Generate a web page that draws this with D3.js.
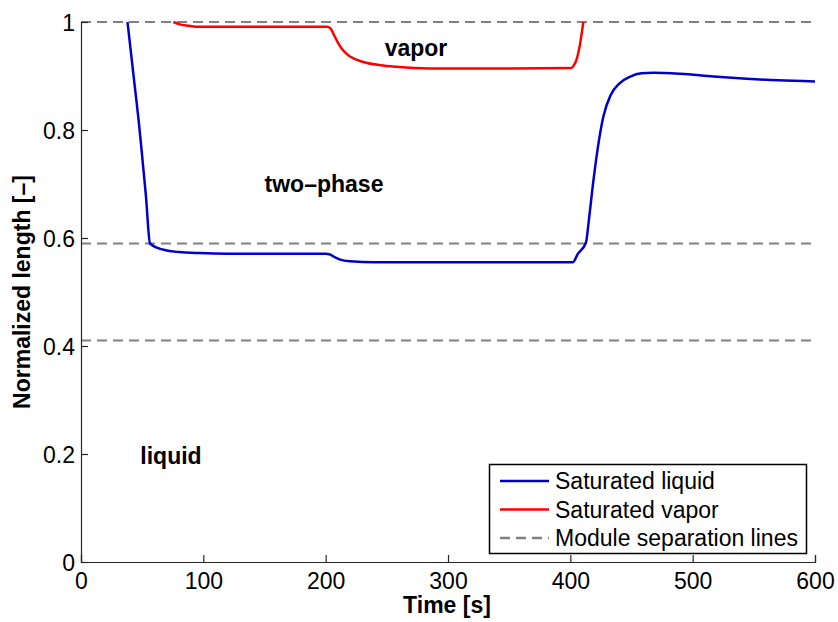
<!DOCTYPE html>
<html><head><meta charset="utf-8">
<script src="https://cdn.jsdelivr.net/npm/d3@7"></script>
<style>body{margin:0;background:#fff}svg{display:block;font-family:"Liberation Sans",Arial,sans-serif}</style>
</head><body>
<svg id="c" width="838" height="622"></svg>
<script>
const xTicks = [0,100,200,300,400,500,600];
const yTicks = [0,0.2,0.4,0.6,0.8,1];
const yTickLabels = ["0","0.2","0.4","0.6","0.8","1"];
const separationLines = [0.41,0.59,1.0];
const liquidT = [38,41,44,47,49.5,53,56.4,62,70,80,97,120,200,203,207,212,220,240,300,402,406,412.8,415,418,422,427,433,440,449,458,468,490,517,544,570,600];
const liquidV = [1.0,0.94,0.88,0.82,0.763,0.68,0.59,0.582,0.577,0.574,0.572,0.571,0.571,0.570,0.565,0.560,0.557,0.555,0.555,0.555,0.570,0.592,0.63,0.69,0.76,0.825,0.865,0.886,0.899,0.905,0.906,0.904,0.899,0.895,0.892,0.890];
const vaporT = [75.5,80,88,97,150,201,204,207,210,214,220,230,245,258,285,350,401,403,405,408,410.6];
const vaporV = [1.0,0.996,0.993,0.991,0.991,0.991,0.988,0.975,0.962,0.948,0.936,0.9265,0.92,0.917,0.914,0.914,0.915,0.92,0.93,0.96,1.0];
const regionLabels = ["vapor","two\u2013phase","liquid"];
const regionX = [416,324,171];
const regionY = [0.952,0.70,0.196];
const legendLabels = ["Saturated liquid","Saturated vapor","Module separation lines"];

const svg = d3.select("#c");
const x = d3.scaleLinear().domain([0,600]).range([81,815]);
const y = d3.scaleLinear().domain([0,1]).range([562,22]);
const axisCol = "#262626";
const fs = 23;

svg.selectAll("line.sep").data(separationLines).enter().append("line")
  .attr("x1",x(0)).attr("x2",x(600)).attr("y1",d=>y(d)).attr("y2",d=>y(d))
  .attr("stroke","#808080").attr("stroke-width",2).attr("stroke-dasharray","10,6");

const line = d3.line().x(d=>x(d[0])).y(d=>y(d[1])).curve(d3.curveMonotoneX);
svg.append("path").datum(liquidT.map((t,i)=>[t,liquidV[i]]))
  .attr("d",line).attr("fill","none").attr("stroke","#0000CC").attr("stroke-width",2.5);
svg.append("path").datum(vaporT.map((t,i)=>[t,vaporV[i]]))
  .attr("d",line).attr("fill","none").attr("stroke","#FF0000").attr("stroke-width",2.5);

const gx = svg.append("g").attr("transform","translate(0,562)")
  .call(d3.axisBottom(x).tickValues(xTicks).tickSize(-7).tickPadding(11).tickFormat(d3.format("d")));
const gy = svg.append("g").attr("transform","translate(81,0)")
  .call(d3.axisLeft(y).tickValues(yTicks).tickSize(-7).tickPadding(6).tickFormat((d,i)=>yTickLabels[i]));
[gx,gy].forEach(g=>{
  g.select(".domain").attr("stroke",axisCol).attr("stroke-width",1.2);
  g.selectAll(".tick line").attr("stroke",axisCol).attr("stroke-width",1.2);
  g.selectAll(".tick text").attr("fill","#000").attr("font-size",fs).attr("font-family","Liberation Sans, Arial, sans-serif");
});
gy.selectAll(".tick text").attr("dy","0.36em");

svg.append("text").attr("x",447).attr("y",613).attr("text-anchor","middle")
  .attr("font-size",fs).attr("font-weight","bold").text("Time [s]");
svg.append("text").attr("transform","translate(30,292) rotate(-90)").attr("text-anchor","middle")
  .attr("font-size",fs).attr("font-weight","bold").text("Normalized length [\u2013]");

svg.selectAll("text.reg").data(regionLabels).enter().append("text")
  .attr("x",(d,i)=>regionX[i]).attr("y",(d,i)=>y(regionY[i])).attr("text-anchor","middle")
  .attr("dy","0.35em").attr("font-size",fs).attr("font-weight","bold").text(d=>d);

const lg = svg.append("g");
lg.append("rect").attr("x",489.5).attr("y",464.5).attr("width",317).attr("height",89)
  .attr("fill","#fff").attr("stroke","#000").attr("stroke-width",1.5);
const legStyles = [{c:"#0000CC",d:null},{c:"#FF0000",d:null},{c:"#808080",d:"10,6"}];
legendLabels.forEach((t,i)=>{
  const yy = 481 + i*28.5;
  lg.append("line").attr("x1",500).attr("x2",549).attr("y1",yy).attr("y2",yy)
    .attr("stroke",legStyles[i].c).attr("stroke-width",2.5).attr("stroke-dasharray",legStyles[i].d);
  lg.append("text").attr("x",555).attr("y",yy).attr("dy","0.36em").attr("font-size",fs).text(t);
});
</script>
</body></html>
